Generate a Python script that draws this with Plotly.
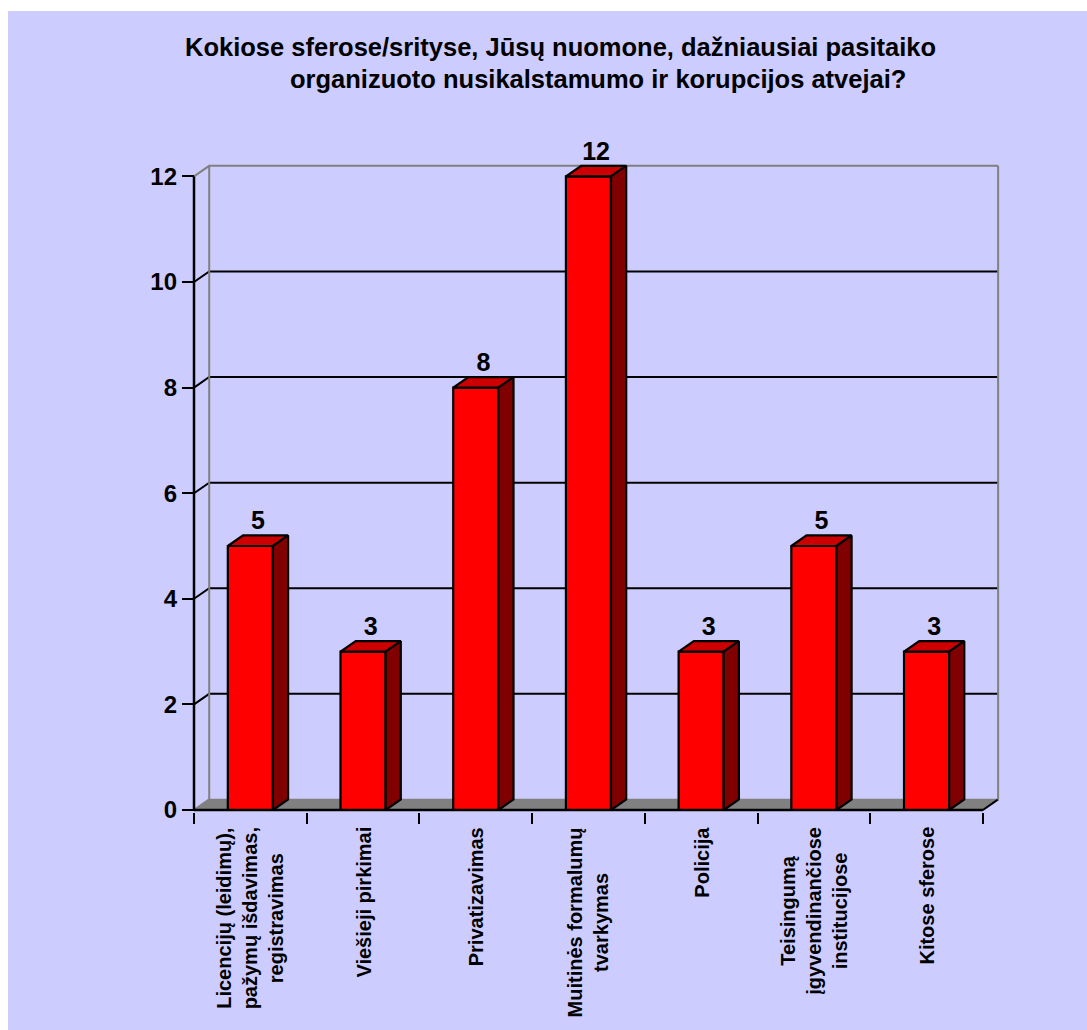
import plotly.graph_objects as go

# ---------------- data ----------------
categories = [
    "Licencijų (leidimų),<br>pažymų išdavimas,<br>registravimas",
    "Viešieji pirkimai",
    "Privatizavimas",
    "Muitinės formalumų<br>tvarkymas",
    "Policija",
    "Teisingumą<br>įgyvendinančiose<br>institucijose",
    "Kitose sferose",
]
values = [5, 3, 8, 12, 3, 5, 3]
y_ticks = [0, 2, 4, 6, 8, 10, 12]
title_lines = [
    "Kokiose sferose/srityse, Jūsų nuomone, dažniausiai pasitaiko",
    "organizuoto nusikalstamumo ir korupcijos atvejai?",
]

# ---------------- style ----------------
FONT = "Liberation Sans, Arial, sans-serif"
BG = "#CCCCFF"
RED_FRONT = "#FF0000"
RED_TOP = "#CC0000"
RED_SIDE = "#800000"
GREY = "#808080"
DX = 0.135   # depth offset in category units
DY = 0.2     # depth offset in value units
BW = 0.4     # bar width

W, H = 1087, 1030
ML, MR, MT, MB = 182, 77, 120, 218
PW, PH = W - ML - MR, H - MT - MB
x_lo = -0.5 - 12 / 112.7
x_hi = x_lo + PW / 112.7
y_lo = -2 / 52.8
y_hi = y_lo + PH / 52.8

def px_x(p):
    return (p - ML) / PW

def px_y(p):
    return (H - MB - p) / PH

n = len(categories)
left, right = -0.5, n - 0.5
ymax = max(y_ticks)

fig = go.Figure()

def line_trace(xs, ys, color, width):
    fig.add_trace(go.Scatter(x=xs, y=ys, mode="lines",
                             line=dict(color=color, width=width),
                             hoverinfo="skip", showlegend=False))

def poly_trace(xs, ys, fill, lw=2.2, lc="black"):
    fig.add_trace(go.Scatter(x=xs, y=ys, mode="lines", fill="toself",
                             fillcolor=fill, line=dict(color=lc, width=lw),
                             hoverinfo="skip", showlegend=False))

# floor
poly_trace([left, right, right + DX, left + DX, left],
           [0, 0, DY, DY, 0], GREY, 1.5, GREY)
line_trace([right, right + DX], [0, DY], "black", 2)

# back wall gridlines (black) and side diagonals
gx, gy = [], []
for t in y_ticks:
    if 0 < t < ymax:
        gx += [left, left + DX, right + DX, None]
        gy += [t, t + DY, t + DY, None]
line_trace(gx, gy, "black", 2)

# grey wall frame
line_trace([left, left + DX, right + DX, None, left + DX, left + DX, None,
            right + DX, right + DX, None, left, left + DX],
           [ymax, ymax + DY, ymax + DY, None, DY, ymax + DY, None,
            DY, ymax + DY, None, 0, DY], GREY, 2)

# bars
for i, v in enumerate(values):
    x0, x1 = i - BW / 2, i + BW / 2
    poly_trace([x0, x1, x1, x0, x0], [0, 0, v, v, 0], RED_FRONT)
    poly_trace([x0, x1, x1 + DX, x0 + DX, x0], [v, v, v + DY, v + DY, v], RED_TOP)
    poly_trace([x1, x1 + DX, x1 + DX, x1, x1], [0, DY, v + DY, v, 0], RED_SIDE)

# front axes lines
line_trace([left, left, None, left, right], [0, ymax, None, 0, 0], "black", 2.5)

# data labels
fig.add_trace(go.Scatter(
    x=[i + DX / 2 for i in range(n)], y=[v + DY for v in values],
    mode="text", text=[str(v) for v in values], textposition="top center",
    textfont=dict(family=FONT, size=25, color="black", weight="bold"),
    cliponaxis=False, hoverinfo="skip", showlegend=False))

# category labels
annotations = []
for i, c in enumerate(categories):
    annotations.append(dict(
        x=i, y=0, xref="x", yref="y", text=c, showarrow=False,
        textangle=-90, xanchor="center", yanchor="top", yshift=-15,
        align="center",
        font=dict(family=FONT, size=20, color="black", weight="bold")))

# title lines
for txt, cx, cy in zip(title_lines, [560, 598], [47, 79]):
    annotations.append(dict(
        x=px_x(cx), y=px_y(cy), xref="paper", yref="paper", text=txt,
        showarrow=False, xanchor="center", yanchor="middle",
        font=dict(family=FONT, size=25.5, color="black", weight="bold")))

fig.update_layout(
    width=W, height=H,
    margin=dict(l=ML, r=MR, t=MT, b=MB, pad=0),
    paper_bgcolor="white", plot_bgcolor="rgba(0,0,0,0)",
    showlegend=False,
    annotations=annotations,
    shapes=[dict(type="rect", xref="paper", yref="paper", layer="below",
                 x0=px_x(8), x1=px_x(W), y0=px_y(H), y1=px_y(11),
                 fillcolor=BG, line=dict(width=0))],
    xaxis=dict(range=[x_lo, x_hi], showgrid=False, zeroline=False,
               showline=False, tickvals=list(range(n)),
               ticks="", showticklabels=False,
               minor=dict(tickmode="array",
                          tickvals=[i - 0.5 for i in range(n + 1)],
                          ticks="outside", ticklen=11, tickwidth=2,
                          tickcolor="black", showgrid=False)),
    yaxis=dict(range=[y_lo, y_hi], showgrid=False, zeroline=False,
               showline=False, tickvals=y_ticks, ticks="inside",
               ticklen=12, tickwidth=2, tickcolor="black",
               ticklabelstandoff=4,
               tickfont=dict(family=FONT, size=24, color="black", weight="bold")),
)

fig.write_html("out.html")
